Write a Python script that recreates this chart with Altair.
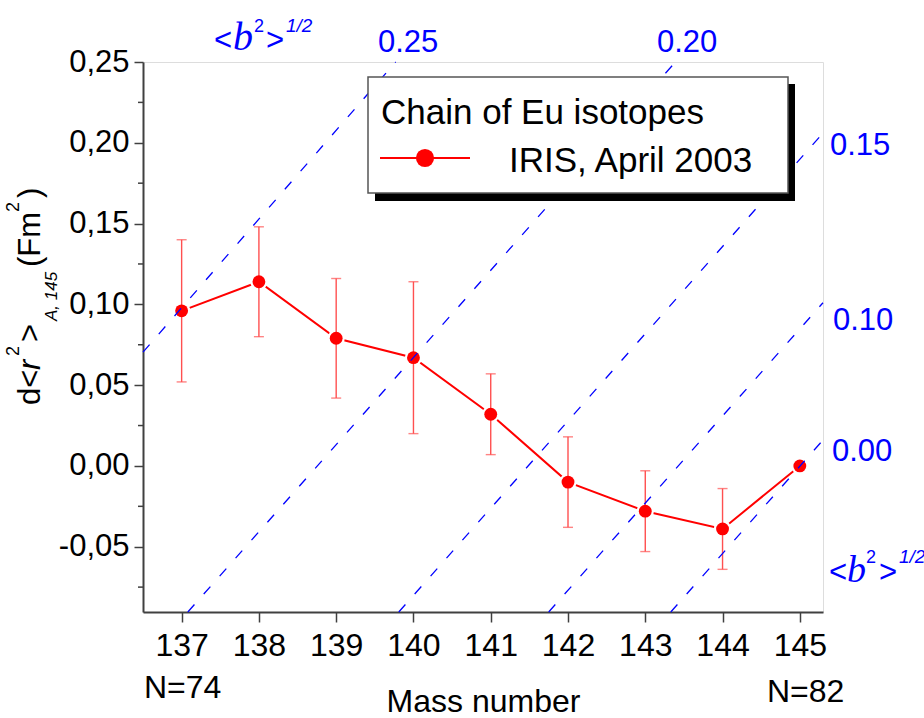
import altair as alt
import pandas as pd

# ---- data ----
mass = [137, 138, 139, 140, 141, 142, 143, 144, 145]
dr2 = [0.096, 0.114, 0.079, 0.067, 0.032, -0.010, -0.028, -0.039, 0.000]
err = [0.044, 0.034, 0.037, 0.047, 0.025, 0.028, 0.025, 0.025, 0.0]

iso_label = ["0.25", "0.20", "0.15", "0.10", "0.00"]
iso_x1 = [136.5, 137.08, 139.81, 141.75, 143.33]
iso_y1 = [0.0704, -0.0904, -0.0904, -0.0904, -0.0904]
iso_x2 = [139.77, 143.39, 145.3, 145.3, 145.3]
iso_y2 = [0.25, 0.25, 0.206, 0.101, 0.016]

y_major = [-0.05, 0.00, 0.05, 0.10, 0.15, 0.20, 0.25]
y_minor = [-0.075, -0.025, 0.025, 0.075, 0.125, 0.175, 0.225]

df = pd.DataFrame({"A": mass, "dr2": dr2, "err": err})
iso = pd.DataFrame({"lab": iso_label, "x1": iso_x1, "y1": iso_y1, "x2": iso_x2, "y2": iso_y2})
minor = pd.DataFrame({"v": y_minor})

X0, Y0 = 143, 62          # plot origin in page pixels
W, H = 680, 550
AX = "#404040"
FONT = "Liberation Sans"

xs = alt.Scale(domain=[136.5, 145.3], nice=False, zero=False)
ys = alt.Scale(domain=[-0.0904, 0.25], nice=False, zero=False)

one = alt.Data(values=[{"k": 0}])


def txt(text, x, y, size, color="black", font=FONT, style="normal", angle=0,
        align="left", baseline="alphabetic"):
    return alt.Chart(one).mark_text(
        text=text, fontSize=size, font=font, fontStyle=style, color=color,
        angle=angle, align=align, baseline=baseline
    ).encode(x=alt.value(x - X0), y=alt.value(y - Y0))


def box(x1, y1, x2, y2, fill, stroke=None, sw=0):
    kw = dict(fill=fill)
    if stroke:
        kw.update(stroke=stroke, strokeWidth=sw)
    return alt.Chart(one).mark_rect(**kw).encode(
        x=alt.value(x1 - X0), x2=alt.value(x2 - X0),
        y=alt.value(y1 - Y0), y2=alt.value(y2 - Y0))


base = alt.Chart(df)

line = base.mark_line(color="#FF0000", strokeWidth=2).encode(
    x=alt.X("A:Q", scale=xs,
            axis=alt.Axis(values=mass, format="d", title="Mass number",
                          labelFontSize=32, labelFont=FONT, labelColor="black",
                          labelPadding=8, tickSize=10, tickWidth=1.5, tickColor=AX,
                          domainColor=AX, domainWidth=2, grid=False,
                          titleFontSize=32, titleFont=FONT, titleFontWeight="normal",
                          titleColor="black", titleBaseline="alphabetic", titleY=99)),
    y=alt.Y("dr2:Q", scale=ys,
            axis=alt.Axis(values=y_major, title=None,
                          labelExpr="replace(replace(format(datum.value, '.2f'), '.', ','), '\u2212', '-')",
                          labelFontSize=31, labelFont=FONT, labelColor="black",
                          labelPadding=5, tickSize=9, tickWidth=1.5, tickColor=AX,
                          domainColor=AX, domainWidth=2, grid=False)),
)

halo = base.mark_point(filled=True, shape="circle", size=300, color="white", opacity=1).encode(
    x=alt.X("A:Q", scale=xs), y=alt.Y("dr2:Q", scale=ys))

ERR_C = "#FF5050"
ebar = base.transform_filter("datum.err > 0").transform_calculate(
    lo="datum.dr2 - datum.err", hi="datum.dr2 + datum.err")
bars = ebar.mark_rule(color=ERR_C, strokeWidth=1.4).encode(
    x=alt.X("A:Q", scale=xs), y=alt.Y("lo:Q", scale=ys), y2="hi:Q")
cap_hi = ebar.mark_tick(orient="horizontal", size=10, thickness=1.4, color=ERR_C).encode(
    x=alt.X("A:Q", scale=xs), y=alt.Y("hi:Q", scale=ys))
cap_lo = ebar.mark_tick(orient="horizontal", size=10, thickness=1.4, color=ERR_C).encode(
    x=alt.X("A:Q", scale=xs), y=alt.Y("lo:Q", scale=ys))

pts = base.mark_point(filled=True, shape="circle", size=165, color="#FF0000", opacity=1).encode(
    x=alt.X("A:Q", scale=xs), y=alt.Y("dr2:Q", scale=ys))

minor_ticks = alt.Chart(minor).mark_rule(color=AX, strokeWidth=1.5).encode(
    y=alt.Y("v:Q", scale=ys), x=alt.value(-5), x2=alt.value(0))

iso_lines = alt.Chart(iso).mark_rule(color="#0000FF", strokeWidth=1.3, strokeDash=[10, 14]).encode(
    x=alt.X("x1:Q", scale=xs), y=alt.Y("y1:Q", scale=ys), x2="x2:Q", y2="y2:Q")

# legend box
legend = [
    box(375, 84, 795, 201, "black"),
    box(368, 77, 788, 193, "white", "#555555", 1.5),
    alt.Chart(one).mark_rule(color="#FF0000", strokeWidth=2).encode(
        x=alt.value(380 - X0), x2=alt.value(470 - X0), y=alt.value(158 - Y0)),
    alt.Chart(one).mark_point(filled=True, shape="circle", size=330, color="#FF0000", opacity=1).encode(
        x=alt.value(425 - X0), y=alt.value(158 - Y0)),
    txt("Chain of Eu isotopes", 381, 124, 35),
    txt("IRIS, April 2003", 509, 172, 35),
]

BLUE = "#0000FF"
blue_labels = [
    txt("0.25", 378, 52, 31, BLUE),
    txt("0.20", 657, 52, 31, BLUE),
    txt("0.15", 830, 155, 31, BLUE),
    txt("0.10", 833, 330, 31, BLUE),
    txt("0.00", 832, 461, 31, BLUE),
    # top <b^2>^1/2
    txt("<", 214, 50, 31, BLUE),
    txt("b", 233, 50, 40, BLUE, font="Liberation Serif", style="italic"),
    txt("2", 254, 32, 18, BLUE),
    txt(">", 266, 50, 31, BLUE),
    txt("1/2", 286, 32, 19, BLUE, style="italic"),
    # right <b^2>^1/2
    txt("<", 829, 582, 31, BLUE),
    txt("b", 847, 582, 38, BLUE, font="Liberation Serif", style="italic"),
    txt("2", 866, 563, 18, BLUE),
    txt(">", 879, 582, 31, BLUE),
    txt("1/2", 899, 563, 19, BLUE, style="italic"),
]

other_text = [
    txt("N=74", 144, 698, 32),
    txt("N=82", 767, 702, 32),
    # rotated y title: d<r^2>_{A, 145} (Fm^2)
    txt("d<", 40, 405, 31, angle=270),
    txt("r", 40, 370, 31, style="italic", angle=270),
    txt("2", 19, 356, 18, angle=270),
    txt(">", 40, 342, 31, angle=270),
    txt("A, 145", 57, 321, 17, style="italic", angle=270),
    txt("(Fm", 40, 267, 31, angle=270),
    txt("2", 19, 212, 18, angle=270),
    txt(")", 40, 198, 31, angle=270),
]

chart = alt.layer(
    line, halo, bars, cap_hi, cap_lo, pts, minor_ticks, iso_lines,
    *legend, *blue_labels, *other_text
).properties(
    width=W, height=H,
    padding={"left": X0, "top": Y0, "right": 924 - X0 - W, "bottom": 718 - Y0 - H},
    autosize=alt.AutoSizeParams(type="none"),
).configure_view(stroke=AX, strokeWidth=1.5).configure(font=FONT)

chart.save("out.html", embed_options={"renderer": "svg", "actions": False})
